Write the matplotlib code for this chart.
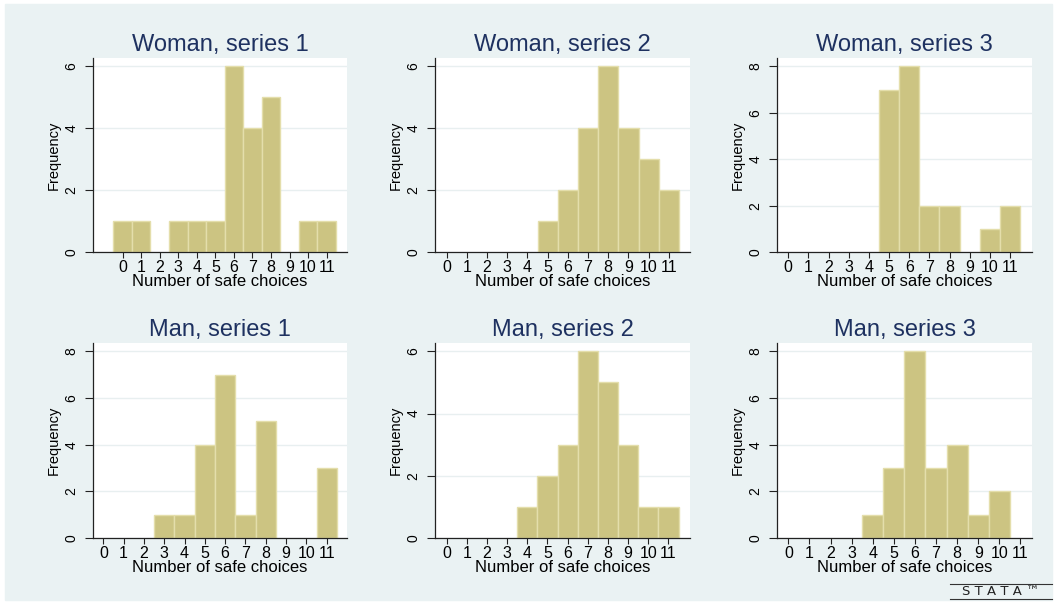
import matplotlib
matplotlib.use("Agg")
import matplotlib.pyplot as plt
import numpy as np

plt.rcParams['font.family'] = ['Liberation Sans', 'DejaVu Sans']

# choices 0..11 and frequency per choice
choices = np.arange(12)
woman_s1 = [1, 1, 0, 1, 1, 1, 6, 4, 5, 0, 1, 1]
woman_s2 = [0, 0, 0, 0, 0, 1, 2, 4, 6, 4, 3, 2]
woman_s3 = [0, 0, 0, 0, 0, 7, 8, 2, 2, 0, 1, 2]
man_s1 = [0, 0, 0, 1, 1, 4, 7, 1, 5, 0, 0, 3]
man_s2 = [0, 0, 0, 0, 1, 2, 3, 6, 5, 3, 1, 1]
man_s3 = [0, 0, 0, 0, 1, 3, 8, 3, 4, 1, 2, 0]

titles = ["Woman, series 1", "Woman, series 2", "Woman, series 3",
          "Man, series 1", "Man, series 2", "Man, series 3"]
series = [woman_s1, woman_s2, woman_s3, man_s1, man_s2, man_s3]
ytops = [6, 6, 8, 8, 6, 8]
xlims = [(-1.6, 12.1), (-0.58, 12.05), (-0.56, 12.09),
         (-0.51, 12.0), (-0.58, 12.07), (-0.54, 11.55)]

bg = '#eaf2f3'
bar_color = '#ccc482'
edge_color = '#e4deab'
title_color = '#1e3160'

W, H = 1057, 604
fig = plt.figure(figsize=(W / 100, H / 100), dpi=100, facecolor='white')
fig.patches.append(plt.Rectangle((5 / W, 4 / H), 1047 / W, 596 / H,
                                 transform=fig.transFigure, color=bg, zorder=-10))

# axes boxes in pixels: left, top, right, bottom
lefts = [(93, 347), (435, 690), (777, 1032)]
rows = [(58, 252), (343, 538)]

for i, (title, counts) in enumerate(zip(titles, series)):
    r, c = divmod(i, 3)
    x0, x1 = lefts[c]
    t, b = rows[r]
    ax = fig.add_axes([x0 / W, 1 - b / H, (x1 - x0) / W, (b - t) / H])
    ax.set_facecolor('white')
    counts = np.array(counts)
    nz = counts > 0
    ax.bar(choices[nz], counts[nz], width=1, color=bar_color,
           edgecolor=edge_color, linewidth=1.0, zorder=2)
    ax.set_xlim(*xlims[i])
    ax.set_ylim(0, ytops[i] * 1.045)
    ax.set_yticks(np.arange(0, ytops[i] + 1, 2))
    ax.set_xticks(choices)
    ax.yaxis.grid(True, color='#e8eff0', linewidth=1.0, zorder=0)
    ax.set_axisbelow(True)
    for side in ['top', 'right']:
        ax.spines[side].set_visible(False)
    for side in ['left', 'bottom']:
        ax.spines[side].set_linewidth(0.9)
        ax.spines[side].set_color('#222222')
    ax.tick_params(axis='x', length=4, width=0.8, color='#222222',
                   labelsize=11.5, pad=2)
    ax.tick_params(axis='y', length=5.5, width=0.8, color='#222222',
                   labelsize=10, pad=5)
    for lab in ax.get_yticklabels():
        lab.set_rotation(90)
        lab.set_va('center')
    ax.set_title(title, fontsize=17, color=title_color, pad=5)
    ax.set_xlabel('Number of safe choices', fontsize=12, labelpad=-1)
    ax.set_ylabel('Frequency', fontsize=10.5, labelpad=3)

# Stata logo at bottom right
fig.add_artist(plt.Line2D([950 / W, 1052 / W], [1 - 584 / H, 1 - 584 / H],
                          color='#333333', linewidth=0.8))
fig.add_artist(plt.Line2D([950 / W, 1052 / W], [1 - 599 / H, 1 - 599 / H],
                          color='#333333', linewidth=0.8))
fig.text(1001 / W, 1 - 591.5 / H, 'S T A T A \u2122', fontsize=9.5, color='#222222',
         ha='center', va='center', family='DejaVu Sans')

fig.savefig('out.png', dpi=100, facecolor='white')
